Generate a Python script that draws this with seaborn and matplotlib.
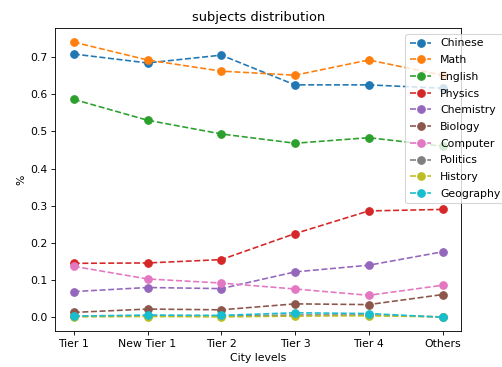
import matplotlib
matplotlib.use("Agg")
import matplotlib.pyplot as plt
import seaborn as sns
import pandas as pd

levels = ["Tier 1", "New Tier 1", "Tier 2", "Tier 3", "Tier 4", "Others"]
chinese   = [0.708, 0.684, 0.705, 0.625, 0.625, 0.616]
math      = [0.740, 0.692, 0.662, 0.651, 0.692, 0.651]
english   = [0.586, 0.530, 0.493, 0.468, 0.483, 0.460]
physics   = [0.145, 0.146, 0.155, 0.225, 0.286, 0.290]
chemistry = [0.069, 0.080, 0.077, 0.122, 0.140, 0.176]
biology   = [0.013, 0.022, 0.020, 0.036, 0.034, 0.061]
computer  = [0.137, 0.103, 0.092, 0.076, 0.059, 0.086]
politics  = [0.003, 0.004, 0.003, 0.006, 0.006, 0.001]
history   = [0.001, 0.002, 0.001, 0.003, 0.004, 0.001]
geography = [0.003, 0.006, 0.005, 0.012, 0.010, 0.000]

subjects = ["Chinese", "Math", "English", "Physics", "Chemistry", "Biology",
            "Computer", "Politics", "History", "Geography"]
series = [chinese, math, english, physics, chemistry, biology,
          computer, politics, history, geography]

rows = []
for s, vals in zip(subjects, series):
    for lv, v in zip(levels, vals):
        rows.append({"level": lv, "value": v, "subject": s})
df = pd.DataFrame(rows)

plt.rcParams["font.family"] = ["DejaVu Sans"]
dpi = 78
fig = plt.figure(figsize=(502 / dpi, 367 / dpi), dpi=dpi)
W, H = 502, 367
left, right, top, bottom = 55.3, 461, 28, 331
ax = fig.add_axes([left / W, 1 - bottom / H, (right - left) / W, (bottom - top) / H])

palette = sns.color_palette("tab10", 10)
for i, (s, vals) in enumerate(zip(subjects, series)):
    sub = df[df["subject"] == s]
    sns.lineplot(data=sub, x="level", y="value", ax=ax, color=palette[i],
                 marker="o", linestyle="--", markersize=7,
                 markeredgecolor=palette[i], markeredgewidth=1, label=s)

ax.set_title("subjects distribution", fontsize=12)
ax.set_xlabel("City levels", fontsize=10)
ax.set_ylabel("%", fontsize=10)
ax.set_yticks([0.0, 0.1, 0.2, 0.3, 0.4, 0.5, 0.6, 0.7])
ax.tick_params(labelsize=10)
ax.set_xlim(-0.25, 5.25)
ax.set_ylim(-0.037, 0.778)
ax.legend(loc="upper left", bbox_to_anchor=(0.863, 0.98), borderaxespad=0,
          fontsize=10, handlelength=2, labelspacing=0.62)
fig.savefig("out.png", dpi=dpi)
